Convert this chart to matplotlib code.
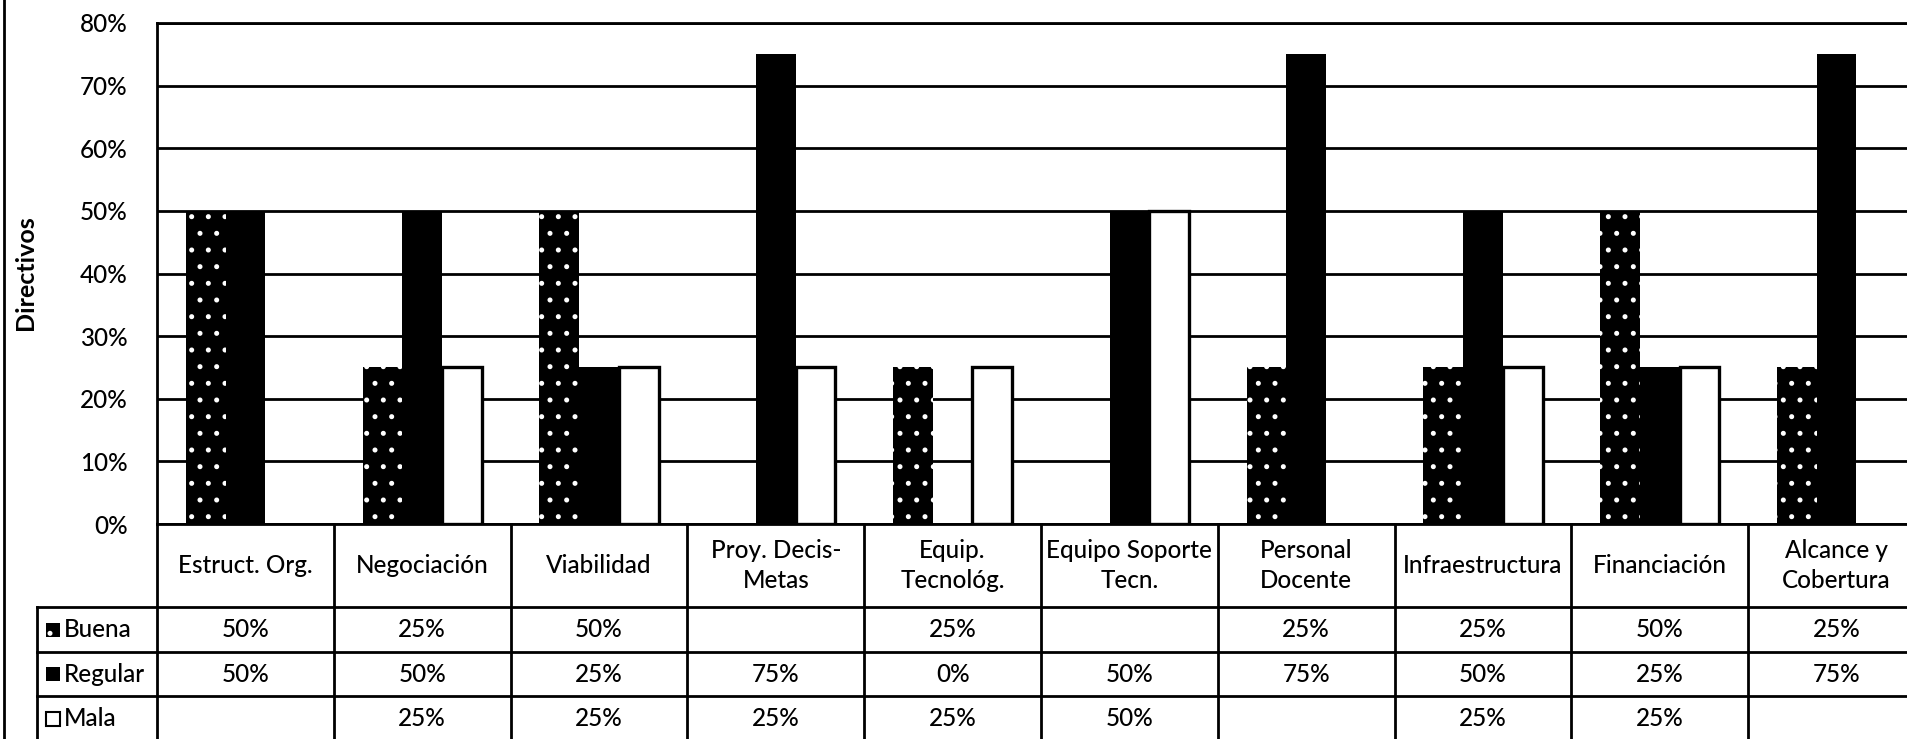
import matplotlib
matplotlib.use("Agg")
import matplotlib.pyplot as plt
from matplotlib.patches import Rectangle
from matplotlib.transforms import blended_transform_factory
import numpy as np

plt.rcParams["font.family"] = ["Lato", "DejaVu Sans"]
plt.rcParams["font.weight"] = "medium"
plt.rcParams["hatch.linewidth"] = 1.2

categories = ["Estruct. Org.", "Negociación", "Viabilidad", "Proy. Decis-\nMetas",
              "Equip.\nTecnológ.", "Equipo Soporte\nTecn.", "Personal\nDocente",
              "Infraestructura", "Financiación", "Alcance y\nCobertura"]
series_names = ["Buena", "Regular", "Mala"]
# None = blank cell in the data table
buena = [50, 25, 50, None, 25, None, 25, 25, 50, 25]
regular = [50, 50, 25, 75, 0, 50, 75, 50, 25, 75]
mala = [None, 25, 25, 25, 25, 50, None, 25, 25, None]
yticks = [0, 10, 20, 30, 40, 50, 60, 70, 80]
ytick_labels = [f"{v}%" for v in yticks]
ylabel = "Directivos"

styles = {
    "Buena": dict(facecolor="black", edgecolor="white", hatch=".", linewidth=0),
    "Regular": dict(facecolor="black", edgecolor="black", linewidth=0),
    "Mala": dict(facecolor="white", edgecolor="black", linewidth=2.4),
}
FS = 17.5

W, H = 1908, 739
fig = plt.figure(figsize=(W / 100, H / 100), dpi=100)

# plot area (pixels); the right side runs past the edge of the image
px_left, px_right, px_top, px_base = 157, 1925, 23, 524
ax = fig.add_axes([px_left / W, 1 - px_base / H,
                   (px_right - px_left) / W, (px_base - px_top) / H])

n = len(categories)
x = np.arange(n)
bw = 0.2245
for k, (name, vals) in enumerate(zip(series_names, [buena, regular, mala])):
    h = np.array([np.nan if v is None else v for v in vals], dtype=float)
    ax.bar(x + (k - 1) * bw, h, width=bw, zorder=3, **styles[name])

ax.set_xlim(-0.5, n - 0.5)
ax.set_ylim(0, 80)
ax.set_yticks(yticks, ytick_labels)
ax.set_xticks([])
ax.tick_params(axis="y", length=0, pad=21, labelsize=FS)
ax.yaxis.grid(True, color="black", linewidth=2)
ax.set_axisbelow(True)
for side in ["left", "bottom", "top"]:
    ax.spines[side].set_linewidth(2)
    ax.spines[side].set_color("black")
ax.spines["right"].set_visible(False)

# overlay in pixel units for the data table and frame
tax = fig.add_axes([0, 0, 1, 1], zorder=5)
tax.set_xlim(0, W)
tax.set_ylim(H, 0)
tax.axis("off")
tr = blended_transform_factory(ax.transData, tax.transData)

fig.text(26 / W, 1 - 273 / H, ylabel, rotation=90, ha="center", va="center",
         fontsize=18, fontweight="bold")
tax.plot([4, 4], [0, H], color="black", lw=2)

row_edges = [524, 607, 652, 696, 741]
for y in row_edges[1:]:
    tax.plot([37, W + 5], [y, y], color="black", lw=2)
tax.plot([37, 37], [row_edges[1], H + 5], color="black", lw=2)
for b in np.arange(n + 1) - 0.5:
    tax.plot([b, b], [row_edges[0], H + 5], color="black", lw=2, transform=tr)

hdr_y = (row_edges[0] + row_edges[1]) / 2
for i, cat in enumerate(categories):
    tax.text(i, hdr_y, cat, transform=tr, ha="center", va="center",
             fontsize=FS, linespacing=1.4)

for r, (name, vals) in enumerate(zip(series_names, [buena, regular, mala])):
    yc = (row_edges[r + 1] + row_edges[r + 2]) / 2
    tax.add_patch(Rectangle((46, yc - 7), 14, 14, **{**styles[name],
                  "linewidth": 1.5 if name == "Mala" else 0}))
    tax.text(64, yc, name, ha="left", va="center", fontsize=FS)
    for i, v in enumerate(vals):
        if v is not None:
            tax.text(i, yc, f"{v}%", transform=tr, ha="center", va="center",
                     fontsize=FS)

fig.savefig("out.png", dpi=100)
